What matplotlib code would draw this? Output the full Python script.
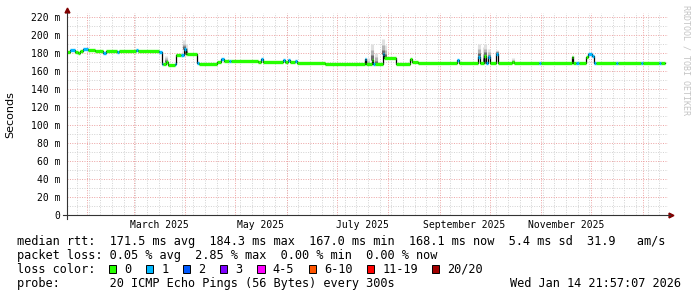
import numpy as np
import pandas as pd
import matplotlib
matplotlib.use('Agg')
import matplotlib.pyplot as plt
import matplotlib.dates as mdates
from matplotlib.patches import Rectangle

# graph window
t_start = pd.Timestamp('2025-01-20 03:36')
t_end = pd.Timestamp('2026-01-16 09:36')

# median rtt as steps: segment start (days after t_start), value (ms), loss bucket
seg_day = [0, 1.8, 4.8, 6.6, 8, 9.6, 12.6, 16.8, 21.6, 23.5, 30.1, 31.3, 41.5, 42.7,
           55.3, 57.1, 58, 59.5, 60.7, 64.9, 65.5, 68.5, 70.4, 71.6, 72.2, 78.2, 79.4,
           90.2, 92.5, 94.4, 97.4, 98.6, 114.9, 116.7, 117.9, 129.9, 131.1, 132.9, 134.1,
           137.1, 138.3, 155.1, 179.2, 179.8, 183.4, 184.0, 185.2, 190.0, 190.8, 197.8,
           206.3, 207.5, 211.1, 234.5, 235.7, 247.1, 248.3, 250.8, 252.0, 253.2, 254.4,
           258.0, 259.2, 267.6, 268.8, 284.0, 285.2, 303.7, 304.3, 306.0, 308.0, 312.1,
           313.3, 315.7, 316.9, 318.1, 330.0, 331.0, 345.0, 346.0, 356.0, 357.0]
seg_ms = [181, 182.5, 181, 179.5, 182, 184, 183, 182, 179.5, 182, 180.5, 182, 183, 182,
          181, 167, 167, 170, 166.5, 167.5, 177.5, 177, 184, 179, 178, 168.5, 167.5,
          170, 173.5, 171, 171, 171, 169.5, 173, 169.5, 172, 169.5, 172, 169.5,
          171, 169, 167.5, 172.5, 167, 172, 167, 167, 178, 174.5, 167.5,
          173, 169.5, 168.5, 172, 168.5, 175, 168.5, 176, 169, 175, 168.5,
          179, 168.5, 170, 168.5, 168.5, 168.5, 175, 168.5, 168.5, 168.5, 175,
          178, 176, 168.5, 168.5, 169, 168.5, 169, 168.5, 169, 168.5]
seg_loss = [0, 1, 0, 0, 0, 1, 0, 0, 1, 0, 1, 0, 1, 0,
            1, 1, 0, 0, 0, 1, 0, 1, 1, 0, 0, 1, 0,
            0, 1, 0, 1, 0, 0, 1, 0, 1, 0, 1, 0,
            1, 0, 0, 1, 0, 0, 1, 0, 1, 0, 0,
            0, 0, 0, 1, 0, 1, 0, 0, 1, 1, 0,
            1, 0, 0, 0, 1, 0, 0, 0, 1, 0, 0,
            1, 1, 1, 0, 1, 0, 1, 0, 1, 0]
data_end = 359.6

# smoke spikes: day, highest ping (ms)
smoke_day = [59.6, 66.0, 70.6, 71.8, 181.0, 183.6, 186.0, 190.2, 191.0, 247.5, 250.4,
             251.2, 253.5, 258.4, 268.0, 303.9]
smoke_top = [176, 179, 194, 190, 174, 190, 180, 195, 188, 190, 186, 190, 184, 183, 174, 176]

y_ticks = [0, 20, 40, 60, 80, 100, 120, 140, 160, 180, 200, 220]
month_labels = ['March 2025', 'May 2025', 'July 2025', 'September 2025', 'November 2025']
month_starts = ['2025-03-01', '2025-05-01', '2025-07-01', '2025-09-01', '2025-11-01']

loss_labels = ['0', '1', '2', '3', '4-5', '6-10', '11-19', '20/20']
loss_colors = ['#26ff00', '#00b8ff', '#0059ff', '#7e00ff', '#ff00ff', '#ff5500', '#ff0000', '#a10000']

rtt_line = 'median rtt:  171.5 ms avg  184.3 ms max  167.0 ms min  168.1 ms now  5.4 ms sd  31.9   am/s'
loss_line = 'packet loss: 0.05 % avg  2.85 % max  0.00 % min  0.00 % now'
probe_line = 'probe:       20 ICMP Echo Pings (56 Bytes) every 300s'
stamp = 'Wed Jan 14 21:57:07 2026'

W, H = 697, 297
MONO = 'DejaVu Sans Mono'


def fx(px):
    return px / W


def fy(py):
    return 1 - py / H


fig = plt.figure(figsize=(W / 100, H / 100), dpi=100)
ax = fig.add_axes([fx(67), fy(215), 601 / W, 202 / H])

x0 = mdates.date2num(t_start)
x1 = mdates.date2num(t_end)

# grid
for d in pd.date_range(t_start, t_end, freq='W-SUN'):
    ax.axvline(mdates.date2num(d), color='#d2d2d2', lw=0.7, ls=(0, (1, 1.5)), zorder=1)
for d in pd.date_range(t_start, t_end, freq='MS'):
    ax.axvline(mdates.date2num(d), color='#eca2a2', lw=0.7, ls=(0, (1, 1.5)), zorder=1.5)
for v in range(10, 220, 20):
    ax.axhline(v, color='#d2d2d2', lw=0.7, ls=(0, (1, 1.5)), zorder=1)
for v in y_ticks[1:]:
    ax.axhline(v, color='#eca2a2', lw=0.7, ls=(0, (1, 1.5)), zorder=1.5)

starts = x0 + np.array(seg_day)
ends = np.append(starts[1:], x0 + data_end)
ms = np.array(seg_ms)

# smoke
for d, top in zip(smoke_day, smoke_top):
    i = np.searchsorted(seg_day, d, side='right') - 1
    base = ms[i]
    xd = x0 + d
    ax.vlines(xd, base, top, color='#e0e0e0', lw=2.2, zorder=2)
    ax.vlines(xd, base, base + (top - base) * 0.6, color='#b4b4b4', lw=2.2, zorder=2.1)
    ax.vlines(xd, base, base + (top - base) * 0.3, color='#6a6a6a', lw=2.2, zorder=2.2)

# median
ax.step(np.append(starts, ends[-1]), np.append(ms, ms[-1]), where='post',
        color='black', lw=0.9, zorder=3)
ax.hlines(ms, starts, ends, colors=[loss_colors[l] for l in seg_loss], lw=2.4, zorder=4)

ax.set_xlim(x0, x1)
ax.set_ylim(0, 224)
for s in ax.spines.values():
    s.set_visible(False)

ax.set_yticks(y_ticks)
ax.set_yticklabels(['0'] + ['%d m' % v for v in y_ticks[1:]], family=MONO, fontsize=7)
mids = [mdates.date2num(pd.Timestamp(m) + pd.offsets.MonthBegin(1)) / 2 +
        mdates.date2num(pd.Timestamp(m)) / 2 for m in month_starts]
ax.set_xticks(mids)
ax.set_xticklabels(month_labels, family=MONO, fontsize=7)
ax.tick_params(axis='both', length=0)
ax.tick_params(axis='y', pad=5)
ax.tick_params(axis='x', pad=3.5)

# axes with arrows
ax.plot([-4 / 601, 1.003], [0, 0], color='#333333', lw=0.8, transform=ax.transAxes, clip_on=False, zorder=5)
ax.plot([0, 0], [-4 / 202, 1.0], color='#333333', lw=0.8, transform=ax.transAxes, clip_on=False, zorder=5)
ax.plot([1.005], [0], marker='>', color='#800000', markersize=3.5, transform=ax.transAxes, clip_on=False)
ax.plot([0], [1.015], marker='^', color='#800000', markersize=3.5, transform=ax.transAxes, clip_on=False)

fig.text(fx(10), fy(115), 'Seconds', rotation=90, ha='center', va='center', fontsize=8, family='DejaVu Sans')
fig.text(fx(686), fy(60), 'RRDTOOL / TOBI OETIKER', rotation=270, ha='center', va='center',
         fontsize=6, family=MONO, color='#c4c4c4')

# stats text
fs = 8.55
fig.text(fx(16.7), fy(245.3), rtt_line, family=MONO, fontsize=fs, va='baseline')
fig.text(fx(16.7), fy(259.3), loss_line, family=MONO, fontsize=fs, va='baseline')
fig.text(fx(16.7), fy(272.7), 'loss color:', family=MONO, fontsize=fs, va='baseline')
fig.text(fx(16.7), fy(286.7), probe_line, family=MONO, fontsize=fs, va='baseline')
fig.text(fx(681), fy(286.7), stamp, family=MONO, fontsize=fs, va='baseline', ha='right')

cw = 7.05
bx = 108.7
for lab, col in zip(loss_labels, loss_colors):
    fig.add_artist(Rectangle((fx(bx), fy(272.7)), 7.2 / W, 7.4 / H, transform=fig.transFigure,
                             facecolor=col, edgecolor='black', lw=0.7))
    fig.text(fx(bx + 15.3), fy(272.7), lab, family=MONO, fontsize=fs, va='baseline')
    bx = bx + 15.3 + len(lab) * cw + 14.8

fig.savefig('out.png', dpi=100)
